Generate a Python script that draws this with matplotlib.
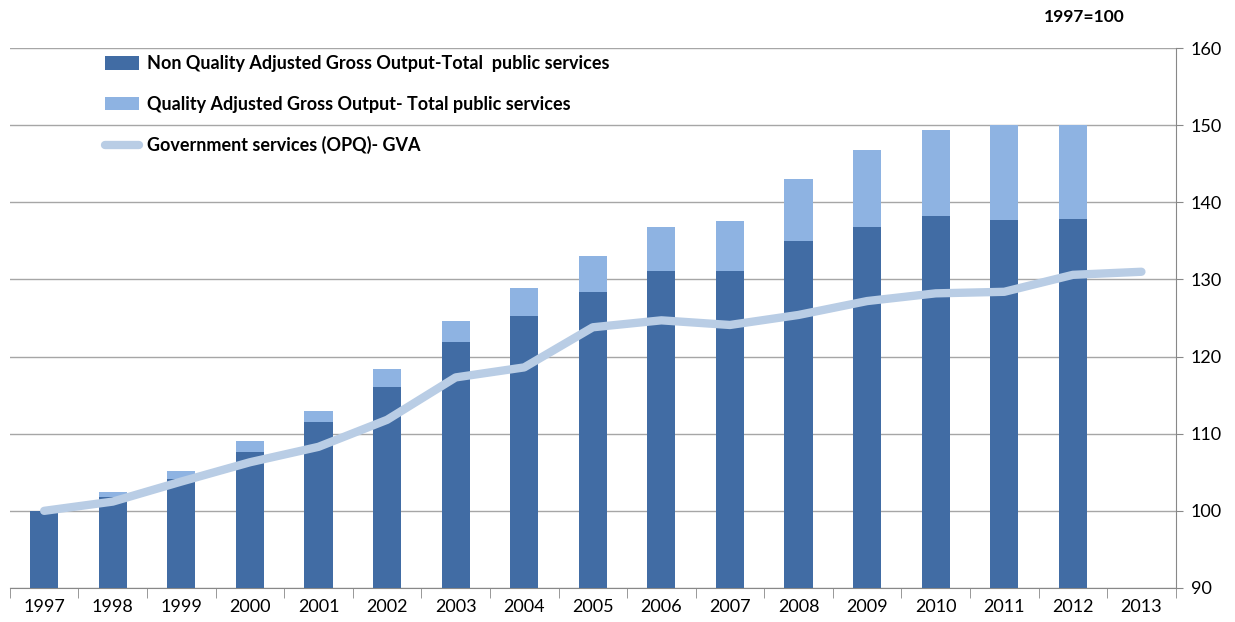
import matplotlib
matplotlib.use("Agg")
import matplotlib.pyplot as plt
from matplotlib.lines import Line2D
from matplotlib.patches import Patch
import numpy as np

plt.rcParams["font.family"] = ["Lato", "DejaVu Sans"]

years = ["1997", "1998", "1999", "2000", "2001", "2002", "2003", "2004", "2005",
         "2006", "2007", "2008", "2009", "2010", "2011", "2012", "2013"]

# Non quality adjusted gross output (no bar for 2013)
non_qa = [100.0, 101.8, 104.1, 107.6, 111.5, 116.1, 121.9, 125.3, 128.4,
          131.1, 131.1, 135.0, 136.8, 138.2, 137.7, 137.8, np.nan]
# Quality adjusted gross output
qa = [100.0, 102.4, 105.2, 109.05, 113.0, 118.4, 124.6, 128.9, 133.0,
      136.8, 137.6, 143.0, 146.8, 149.4, 150.0, 150.0, np.nan]
# Government services (OPQ) - GVA
gva = [100.0, 101.2, 103.8, 106.3, 108.3, 111.8, 117.3, 118.6, 123.8,
       124.7, 124.1, 125.4, 127.2, 128.2, 128.4, 130.6, 131.0]

dark = "#416CA4"
light = "#8EB3E2"
line_c = "#B9CDE5"
grid_c = "#A6A6A6"

fig = plt.figure(figsize=(12.35, 6.22), dpi=100)
ax = fig.add_axes([0.008, 0.0547, 0.944, 0.868])

x = np.arange(len(years))
w = 0.41
ax.bar(x, qa, width=w, color=light, zorder=2)
ax.bar(x, non_qa, width=w, color=dark, zorder=3)
ax.plot(x, gva, color=line_c, lw=6, solid_capstyle="round",
        solid_joinstyle="round", zorder=4)

ax.set_xlim(-0.5, len(years) - 0.5)
ax.set_ylim(90, 160)

ax.yaxis.tick_right()
ax.set_yticks(range(90, 161, 10))
ax.yaxis.grid(True, color=grid_c, lw=1, zorder=0)
ax.set_axisbelow(True)

ax.set_xticks(x)
ax.set_xticklabels(years)
ax.set_xticks(np.arange(-0.5, len(years)), minor=True)
ax.tick_params(axis="x", which="major", length=0, labelsize=13, pad=8, colors="#000000")
ax.tick_params(axis="x", which="minor", length=7, color="#888888", direction="out")
ax.tick_params(axis="y", length=5, color="#888888", labelsize=13, pad=6)

for s in ["left", "top"]:
    ax.spines[s].set_visible(False)
for s in ["right", "bottom"]:
    ax.spines[s].set_color("#888888")

handles = [
    Patch(facecolor=dark, edgecolor="none"),
    Patch(facecolor=light, edgecolor="none"),
    Line2D([0], [0], color=line_c, lw=6, solid_capstyle="round"),
]
labels = [
    "Non Quality Adjusted Gross Output-Total  public services",
    "Quality Adjusted Gross Output- Total public services",
    "Government services (OPQ)- GVA",
]
leg = ax.legend(handles, labels, loc="upper left", bbox_to_anchor=(0.075, 1.0),
                frameon=False, prop={"weight": "bold", "size": 13},
                labelspacing=1.3, handlelength=1.9, handleheight=0.75,
                handletextpad=0.45, borderaxespad=0)

fig.text(0.911, 0.972, "1997=100", ha="right", va="center",
         fontsize=12.5, fontweight="bold")

fig.savefig("out.png", dpi=100)
